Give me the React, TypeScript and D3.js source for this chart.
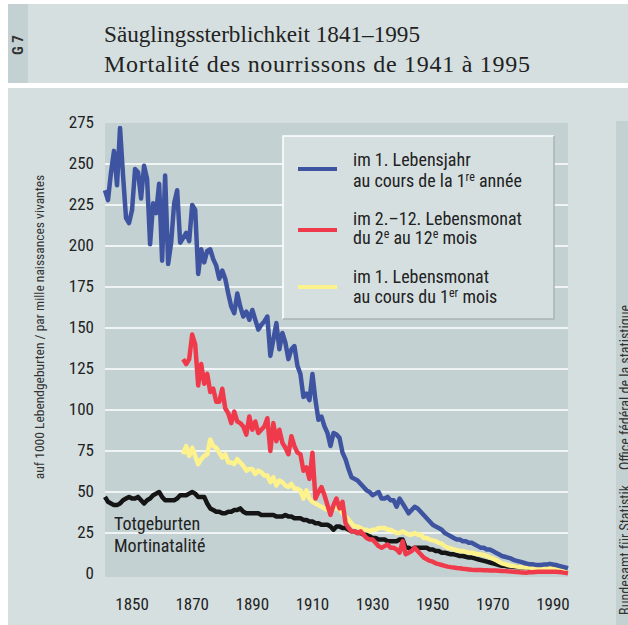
import * as d3 from "d3";

const W = 628;
const H = 625;

// years covered by each series
const START = 1841;
const MONTH_START = 1867;

// deaths in the 1st year of life, per 1000 live births, 1841–1995
const firstYear = [
  234, 228, 245, 258, 237, 272, 243, 217, 214, 222,
  247, 245, 229, 249, 241, 201, 226, 220, 238, 191,
  243, 189, 202, 226, 234, 202, 205, 208, 203, 225,
  222, 183, 198, 190, 197, 198, 192, 188, 180, 185,
  180, 171, 163, 159, 171, 163, 157, 160, 155, 161,
  155, 149, 152, 154, 157, 133, 143, 153, 137, 147,
  141, 131, 137, 139, 127, 122, 108, 110, 106, 122,
  106, 94, 96, 90, 86, 78, 86, 85, 83, 74,
  70, 64, 59, 58, 57, 55, 53, 51, 50, 48,
  49, 50, 46, 46, 47, 45, 45, 41, 46, 43,
  40, 37, 39, 41, 40, 38, 36, 34, 32, 30,
  29, 28, 27, 25, 24, 23, 22, 21, 21, 20,
  20, 19, 19, 18, 17, 16, 16, 15, 15, 14,
  13, 12, 11, 10.5, 10, 9.5, 8.5, 8, 7.5, 7,
  6.5, 6, 6, 5.7, 5.5, 5.5, 5.8, 5.8, 6.2, 5.8,
  5.5, 5, 4.5, 4, 3.5,
];

// deaths in the 2nd–12th month, 1867–1995
const laterMonths = [
  131, 128, 131, 146, 140, 115, 128, 116, 122, 111,
  113, 105, 105, 113, 101, 98, 92, 99, 93, 92,
  90, 85, 96, 88, 93, 86, 88, 90, 95, 75,
  92, 81, 88, 80, 77, 73, 84, 78, 74, 73,
  63, 65, 58, 74, 46, 50, 53, 48, 42, 36,
  42, 46, 40, 44, 31, 28, 26, 26, 25, 26,
  24, 22, 21, 21, 19, 17, 16, 17, 18, 16,
  16, 15, 13, 20, 12, 13, 14, 16, 14, 12,
  10, 9, 8, 7.5, 6.5, 6, 5.5, 5, 4.5, 4.2,
  4, 3.7, 3.5, 3.2, 3, 2.8, 2.6, 2.5, 2.5, 2.4,
  2.3, 2.3, 2.2, 2.2, 2.1, 2, 1.9, 1.8, 1.6, 1.5,
  1.3, 1.2, 1, 0.9, 0.8, 1, 1.1, 1.2, 1.3, 1.3,
  1.4, 1.4, 1.4, 1.4, 1.3, 1.2, 1, 0.7, 0.4,
];

// deaths in the 1st month, 1867–1995
const firstMonth = [
  73, 78, 72, 77, 72, 67, 70, 72, 73, 82,
  78, 77, 74, 71, 73, 68, 68, 67, 70, 68,
  66, 63, 64, 64, 61, 63, 62, 60, 60, 56,
  59, 54, 57, 56, 54, 53, 55, 52, 52, 51,
  46, 51, 46, 44, 43, 42, 41, 40, 39, 39,
  40, 40, 40, 37, 35, 33, 31, 29, 29, 28,
  27, 27, 26, 27, 27, 28, 28, 28, 27, 27,
  26, 25, 25, 26, 25, 24, 24, 25, 24, 24,
  22, 22, 21, 20.5, 20, 19, 18.5, 17, 16, 15.7,
  15, 14.5, 14, 14, 13.5, 13, 13, 12.5, 12, 12,
  11.5, 11, 10, 9.5, 8.5, 7.5, 6.5, 6, 5.5, 5,
  4.8, 4.5, 4.3, 4.1, 4, 3.9, 3.8, 3.7, 3.6, 3.5,
  3.5, 3.5, 3.5, 3.5, 3.3, 3, 2.8, 2.6, 2.4,
];

// stillbirths, 1841–1995
const stillbirths = [
  47, 44, 43, 42, 42, 43, 45, 46, 47, 46,
  46, 47, 45, 43, 45, 46, 48, 49, 50, 47,
  45, 45, 45, 45, 46, 48, 48, 48, 49, 50,
  49, 47, 47, 47, 43, 40, 39, 38, 38, 37,
  37, 38, 38, 39, 39, 40, 38, 37, 37, 37,
  37, 37, 36, 36, 36, 36, 36, 35, 35, 35,
  36, 35, 35, 34, 34, 34, 33, 33, 32, 32,
  31, 31, 30, 30, 30, 29, 27, 29, 29, 28,
  28, 27, 26, 26, 25, 25, 24, 24, 23, 22,
  22, 21, 21, 21, 20, 20, 20, 20, 21, 21,
  16, 16, 15, 16, 16, 16, 16, 16, 15, 15,
  14, 14, 13, 13, 12.5, 12, 12, 11.5, 11, 11,
  10.5, 10, 10, 9.5, 9, 8.5, 8, 7.5, 7, 6.5,
  6, 5.5, 5, 5, 4.5, 4.5, 4.3, 4.2, 4.1, 4,
  4, 4, 3.9, 3.8, 3.8, 3.7, 3.6, 3.5, 3.5, 3.5,
  3.4, 3.2, 3.1, 3, 2.9,
];

const yTicks = [0, 25, 50, 75, 100, 125, 150, 175, 200, 225, 250, 275];
const xTicks = [1850, 1870, 1890, 1910, 1930, 1950, 1970, 1990];

const BLUE = "#3e54a1";
const RED = "#ef3a4b";
const YELLOW = "#fdf28c";
const BLACK = "#151515";
const PANEL = "#d5dfe0";
const DARK = "#c3d1d2";
const INK = "#222";
const SANS = "'Liberation Sans Narrow', 'Roboto Condensed', 'DejaVu Sans Condensed', Roboto, sans-serif";
const SERIF = "'Liberation Serif', 'DejaVu Serif', serif";

const PL = 105;
const PR = 568;
const PT = 123;
const PB = 577;

export default function App() {
  const x = d3.scaleLinear().domain([1841, 1995]).range([PL, PR]);
  const y = d3.scaleLinear().domain([0, 275]).range([574, 123]);

  const path = (vals: number[], start: number) =>
    d3
      .line<number>()
      .x((_, i) => x(start + i))
      .y((d) => y(d))(vals) ?? "";

  // drawing order: later entries sit on top
  const series = [
    { vals: stillbirths, start: START, color: BLACK },
    { vals: firstMonth, start: MONTH_START, color: YELLOW },
    { vals: laterMonths, start: MONTH_START, color: RED },
    { vals: firstYear, start: START, color: BLUE },
  ];

  return (
    <svg
      width={W}
      height={H}
      style={{ position: "absolute", left: 0, top: 0, display: "block", background: "#fff" }}
    >
      {/* header band */}
      <rect x={8} y={4} width={W - 8} height={79} fill={PANEL} />
      <rect x={8} y={4} width={20} height={79} fill={DARK} />
      <text
        transform="translate(23,45) rotate(-90)"
        textAnchor="middle"
        fontFamily={SANS}
        fontWeight={700}
        fontSize={15}
        fill="#333"
      >
        G 7
      </text>
      <text x={104} y={42} fontFamily={SERIF} fontSize={24} fill={INK} textLength={316} lengthAdjust="spacingAndGlyphs">
        Säuglingssterblichkeit 1841–1995
      </text>
      <text x={104} y={72} fontFamily={SERIF} fontSize={24} fill={INK} textLength={426} lengthAdjust="spacing">
        Mortalité des nourrissons de 1941 à 1995
      </text>

      {/* main panel */}
      <rect x={8} y={88} width={W - 8} height={H - 88} fill={PANEL} />
      <rect x={616} y={121} width={W - 616} height={H - 121} fill={DARK} />
      <text
        transform="translate(630,485) rotate(-90)"
        textAnchor="end"
        fontFamily={SANS}
        fontSize={14}
        fill="#333"
      >
        Bundesamt für Statistik
      </text>
      <text
        transform="translate(630,305) rotate(-90)"
        textAnchor="end"
        fontFamily={SANS}
        fontSize={14}
        fill="#333"
      >
        Office fédéral de la statistique
      </text>

      {/* plot area */}
      <rect x={PL} y={PT} width={PR - PL} height={PB - PT} fill={DARK} />
      {yTicks.filter((t) => t > 0 && t < 275).map((t) => (
        <line key={t} x1={PL} x2={PR} y1={y(t)} y2={y(t)} stroke="#fff" strokeWidth={1.5} />
      ))}

      {/* y axis */}
      {yTicks.map((t) => (
        <text
          key={t}
          x={94}
          y={y(t) - 1}
          dy="0.35em"
          textAnchor="end"
          fontFamily={SANS}
          fontSize={17}
          fill={INK}
        >
          {t}
        </text>
      ))}
      <text
        transform="translate(44,327) rotate(-90)"
        textAnchor="middle"
        fontFamily={SANS}
        fontSize={13.5}
        fill="#333"
      >
        auf 1000 Lebendgeburten / par mille naissances vivantes
      </text>

      {/* x axis */}
      {xTicks.map((t) => (
        <text key={t} x={x(t)} y={610} textAnchor="middle" fontFamily={SANS} fontSize={17} fill={INK}>
          {t}
        </text>
      ))}

      {/* legend */}
      <rect x={283} y={136} width={271} height={183} fill={PANEL} />
      <path d="M283,319 V136 H554" fill="none" stroke="#fff" strokeWidth={1.5} />
      <path d="M554,136 V319 H283" fill="none" stroke="#aab4b6" strokeWidth={1.5} />
      <g fontFamily={SANS} fontSize={18} fill={INK}>
        <line x1={298} x2={337} y1={169} y2={169} stroke={BLUE} strokeWidth={4} />
        <text x={353} y={166}>im 1. Lebensjahr</text>
        <text x={353} y={187}>
          au cours de la 1<tspan fontSize={12} dy={-6}>re</tspan>
          <tspan dy={6}> année</tspan>
        </text>
        <line x1={298} x2={337} y1={230} y2={230} stroke={RED} strokeWidth={4} />
        <text x={353} y={225}>im 2.–12. Lebensmonat</text>
        <text x={353} y={244}>
          du 2<tspan fontSize={12} dy={-6}>e</tspan>
          <tspan dy={6}> au 12</tspan>
          <tspan fontSize={12} dy={-6}>e</tspan>
          <tspan dy={6}> mois</tspan>
        </text>
        <line x1={298} x2={337} y1={287} y2={287} stroke={YELLOW} strokeWidth={4} />
        <text x={353} y={283}>im 1. Lebensmonat</text>
        <text x={353} y={303}>
          au cours du 1<tspan fontSize={12} dy={-6}>er</tspan>
          <tspan dy={6}>  mois</tspan>
        </text>
      </g>

      {/* series */}
      {series.map((s, i) => (
        <path
          key={i}
          d={path(s.vals, s.start)}
          fill="none"
          stroke={s.color}
          strokeWidth={4.5}
          strokeLinejoin="round"
        />
      ))}

      <g fontFamily={SANS} fontSize={18} fill={INK}>
        <text x={114} y={530}>Totgeburten</text>
        <text x={114} y={552}>Mortinatalité</text>
      </g>
    </svg>
  );
}
